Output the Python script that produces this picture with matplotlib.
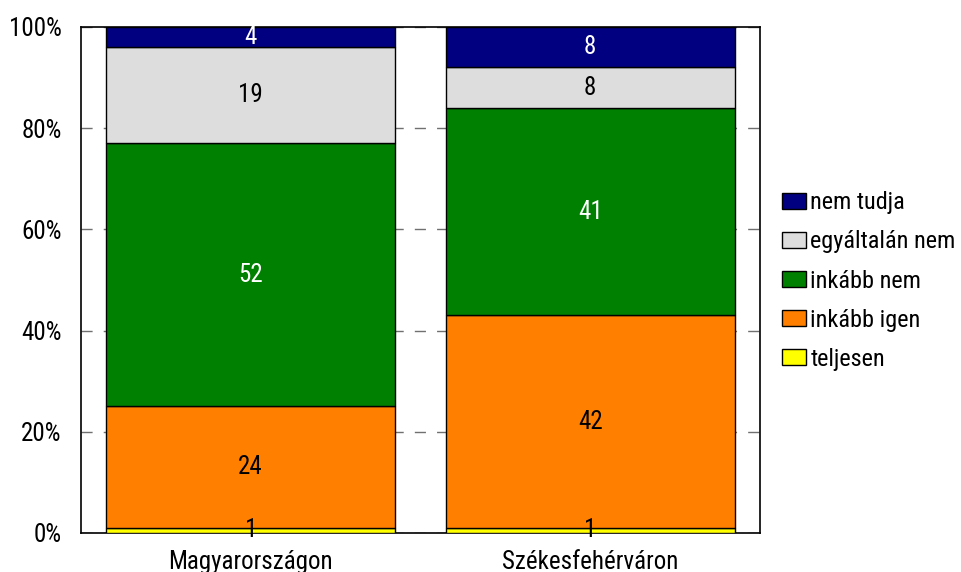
import matplotlib
matplotlib.use("Agg")
import matplotlib.pyplot as plt
from matplotlib import font_manager
import numpy as np

categories = ["Magyarországon", "Székesfehérváron"]
series_names = ["teljesen", "inkább igen", "inkább nem", "egyáltalán nem", "nem tudja"]
teljesen = [1, 1]
inkabb_igen = [24, 42]
inkabb_nem = [52, 41]
egyaltalan_nem = [19, 8]
nem_tudja = [4, 8]
yticks = [0, 20, 40, 60, 80, 100]
ytick_labels = ["0%", "20%", "40%", "60%", "80%", "100%"]

colors = ["#FFFF00", "#FF8000", "#008000", "#DDDDDD", "#000080"]
text_colors = ["black", "black", "white", "black", "white"]

names = {f.name for f in font_manager.fontManager.ttflist}
cands = ["Liberation Sans Narrow", "Arial Narrow", "Roboto Condensed",
         "Archivo Narrow", "PT Sans Narrow", "Liberation Sans"]
first = next((f for f in cands if f in names), "DejaVu Sans")
plt.rcParams["font.family"] = [first, "DejaVu Sans"]

fig = plt.figure(figsize=(9.62, 5.72), dpi=100)
ax = fig.add_axes([81/962, 1-533/572, (760-81)/962, (533-27)/572])

data = [teljesen, inkabb_igen, inkabb_nem, egyaltalan_nem, nem_tudja]
x = np.arange(len(categories))
bottom = np.zeros(len(categories))
handles = []
for vals, name, col, tc in zip(data, series_names, colors, text_colors):
    vals = np.array(vals, dtype=float)
    b = ax.bar(x, vals, 0.85, bottom=bottom, color=col, edgecolor="black",
               linewidth=1.0, label=name, zorder=3)
    handles.append(b)
    for xi, v, bt in zip(x, vals, bottom):
        ax.text(xi, bt + v/2, f"{int(v)}", ha="center", va="center",
                color=tc, fontsize=18, zorder=4)
    bottom += vals

ax.set_xlim(-0.5, 1.5)
ax.set_ylim(0, 100)
ax.set_yticks(yticks)
ax.set_yticklabels(ytick_labels, fontsize=18)
ax.set_xticks(x)
ax.set_xticklabels(categories, fontsize=18)
ax.tick_params(axis="both", length=0, pad=14)
ax.tick_params(axis="x", pad=12)
ax.yaxis.grid(True, linestyle=(0, (8, 8)), color="#707070", linewidth=1.0, zorder=0)
for s in ax.spines.values():
    s.set_linewidth(1.2)
    s.set_color("black")

leg = fig.legend(handles[::-1], series_names[::-1], loc="center left",
                 bbox_to_anchor=(782/962, 1-281/572), frameon=False,
                 fontsize=17.5, handlelength=0.97, handleheight=0.68,
                 handletextpad=0.2, labelspacing=0.66, borderpad=0,
                 borderaxespad=0)
fig.savefig("out.png", dpi=100)
